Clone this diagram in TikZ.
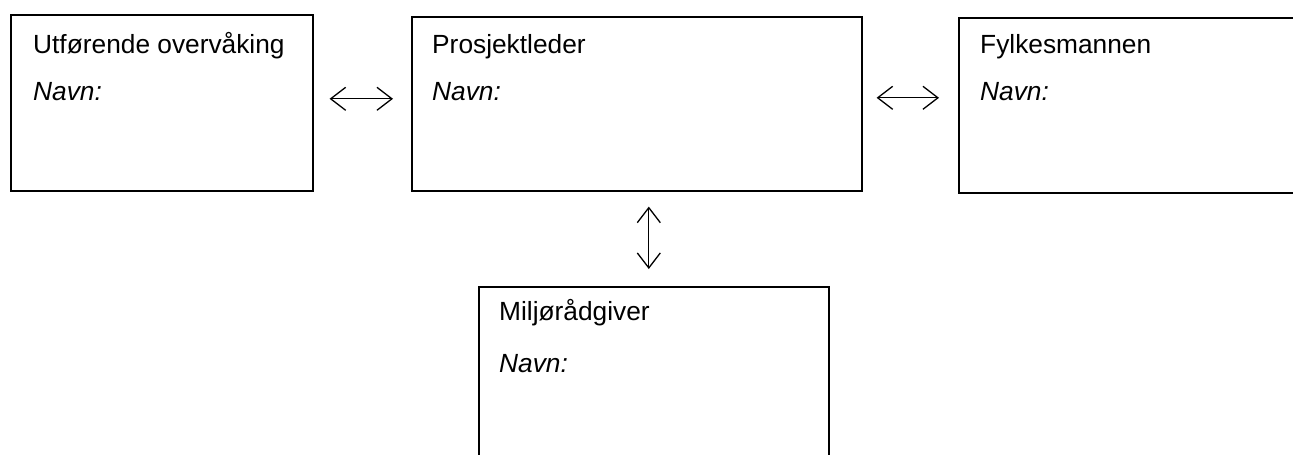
\documentclass[tikz,border=0pt]{standalone}
\usepackage{fontspec}
\setmainfont{Liberation Sans}
\usetikzlibrary{arrows.meta}
\begin{document}
\begin{tikzpicture}[x=1pt,y=-1pt,
  box/.style={draw,line width=1.6pt,rectangle,anchor=north west,inner sep=0pt},
  lbl/.style={anchor=base west,inner sep=0pt,font=\fontsize{26.3}{30}\selectfont},
  arr/.style={line width=1.3pt,{Straight Barb[length=15pt,width=23pt]}-{Straight Barb[length=15pt,width=23pt]}}]
\useasboundingbox (0,0) rectangle (1293,455);
\node[box,minimum width=302pt,minimum height=176pt] (b1) at (10,14) {};
\node[box,minimum width=450pt,minimum height=174pt] (b2) at (411,16) {};
\node[box,minimum width=360pt,minimum height=175pt] (b3) at (958,17) {};
\node[box,minimum width=350pt,minimum height=190pt] (b4) at (478,286) {};
\node[lbl] (t1) at (33,53) {Utførende overvåking};
\node[lbl] (n1) at (33,100) {\itshape Navn:};
\node[lbl] (t2) at (432,53) {Prosjektleder};
\node[lbl] (n2) at (432,100) {\itshape Navn:};
\node[lbl] (t3) at (980,53) {Fylkesmannen};
\node[lbl] (n3) at (980,100) {\itshape Navn:};
\node[lbl] (t4) at (499,320) {Miljørådgiver};
\node[lbl] (n4) at (499,372) {\itshape Navn:};
\draw[arr,shorten <=16pt,shorten >=18pt] ([yshift=4pt]b1.east) -- ([yshift=4pt]b1.east -| b2.west);
\draw[arr,shorten <=14pt,shorten >=19pt] ([yshift=6pt]b2.east) -- ([yshift=6pt]b2.east -| b3.west);
\draw[arr,shorten <=15pt,shorten >=17pt] ([xshift=12pt]b2.south) -- ([xshift=12pt]b2.south |- b4.north);
\end{tikzpicture}
\end{document}
